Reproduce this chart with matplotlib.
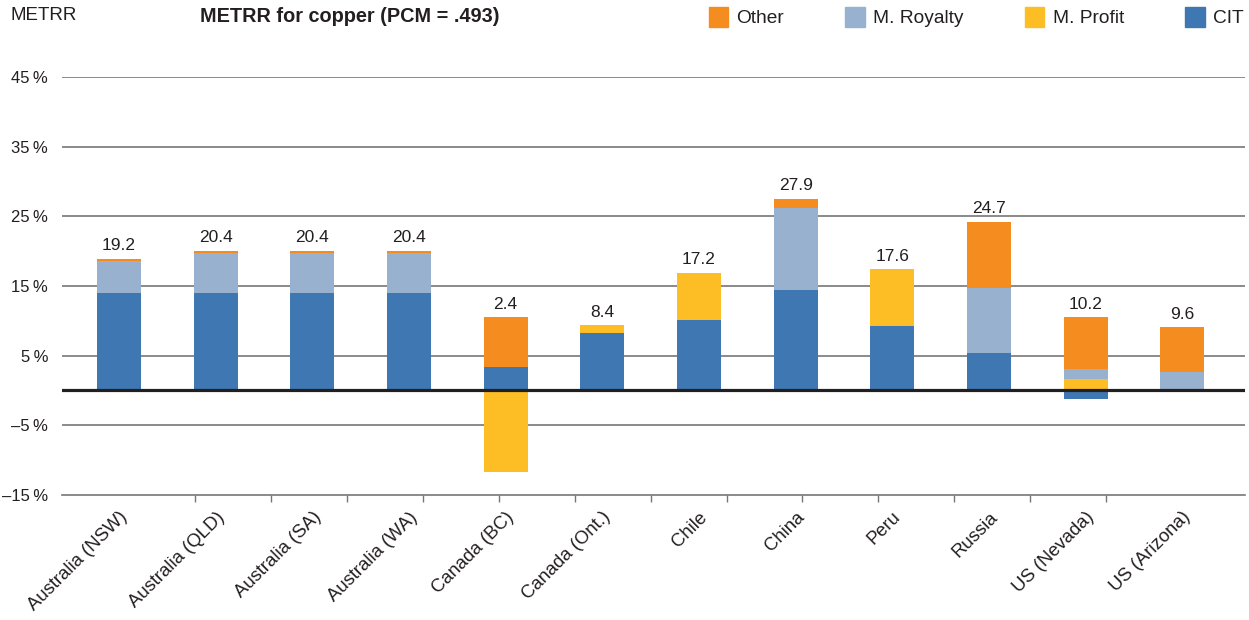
import numpy as np
import matplotlib.pyplot as plt
from matplotlib.patches import Patch

plt.rcParams['font.family'] = ['Liberation Sans', 'DejaVu Sans']

countries = ['Australia (NSW)', 'Australia (QLD)', 'Australia (SA)', 'Australia (WA)',
             'Canada (BC)', 'Canada (Ont.)', 'Chile', 'China', 'Peru', 'Russia',
             'US (Nevada)', 'US (Arizona)']

# METRR components, percentage points
cit = [14.0, 14.0, 14.0, 14.0, 3.3, 8.2, 10.1, 14.4, 9.25, 5.3, -1.25, 0.0]
m_profit = [0.0, 0.0, 0.0, 0.0, -11.8, 1.15, 6.8, 0.0, 8.15, 0.0, 1.6, 0.0]
m_royalty = [4.6, 5.8, 5.8, 5.8, 0.0, 0.0, 0.0, 11.8, 0.0, 9.4, 1.4, 2.65]
other = [0.3, 0.25, 0.25, 0.25, 7.2, 0.0, 0.0, 1.3, 0.0, 9.5, 7.5, 6.4]

# total METRR printed above each bar
totals = [19.2, 20.4, 20.4, 20.4, 2.4, 8.4, 17.2, 27.9, 17.6, 24.7, 10.2, 9.6]

yticks = [-15, -5, 5, 15, 25, 35, 45]

INK = '#231f20'
GRID = '#777777'
colors = {'CIT': '#3e77b1', 'M. Profit': '#fdbd25',
          'M. Royalty': '#97b1ce', 'Other': '#f48c20'}

W, H = 1249, 620
fig = plt.figure(figsize=(W / 100, H / 100), dpi=100)
ax = fig.add_axes([62 / W, (H - 494.7) / H, (1245 - 62) / W, (494.7 - 77.3) / H])

x = np.arange(len(countries))
pos_bottom = np.zeros(len(x))
neg_bottom = np.zeros(len(x))
series = [('CIT', cit), ('M. Profit', m_profit), ('M. Royalty', m_royalty), ('Other', other)]
for name, vals in series:
    v = np.array(vals, dtype=float)
    bottom = np.where(v >= 0, pos_bottom, neg_bottom)
    ax.bar(x, v, bottom=bottom, width=0.455, color=colors[name], zorder=3)
    pos_bottom += np.where(v > 0, v, 0)
    neg_bottom += np.where(v < 0, v, 0)

for xi, top, t in zip(x, pos_bottom, totals):
    ax.annotate(f'{t:.1f}', xy=(xi, top), xytext=(0, 4), textcoords='offset points',
                ha='center', va='bottom', fontsize=12.5, color=INK)

ax.set_xlim(-0.59, 11.65)
ax.set_ylim(-15, 45)

# horizontal rules
for yt in yticks[1:]:
    ax.axhline(yt, color=GRID, lw=1.2, zorder=1)
ax.axhline(0, color=INK, lw=2.3, zorder=4)

ax.set_yticks(yticks)
ax.set_yticklabels([f'{t}\u2009%'.replace('-', '\u2013') for t in yticks],
                   fontsize=12, color=INK)
ax.tick_params(axis='y', length=0, pad=10)

ax.set_xticks(x)
ax.set_xticklabels(countries, rotation=45, ha='right', va='top',
                   rotation_mode='anchor', fontsize=13.3, color=INK)
ax.tick_params(axis='x', which='major', length=0, pad=10)
ax.set_xticks(np.linspace(0, 11, 15), minor=True)
ax.tick_params(axis='x', which='minor', length=5, width=1, color=GRID, direction='out')

for side in ['top', 'right', 'left']:
    ax.spines[side].set_visible(False)
ax.spines['bottom'].set_color(GRID)
ax.spines['bottom'].set_linewidth(1.2)

fig.text(10 / W, 1 - 16 / H, 'METRR', fontsize=13.5, color=INK, va='center', ha='left')
fig.text(200 / W, 1 - 16 / H, 'METRR for copper (PCM = .493)', fontsize=14.3,
         fontweight='bold', color=INK, va='center', ha='left')

handles = [Patch(color=colors[n]) for n in ['Other', 'M. Royalty', 'M. Profit', 'CIT']]
fig.legend(handles, ['Other', 'M. Royalty', 'M. Profit', 'CIT'], ncol=4,
           loc='center right', bbox_to_anchor=(1244 / W, 1 - 17 / H),
           frameon=False, fontsize=13.8, handlelength=1.0, handleheight=1.2,
           handletextpad=0.45, columnspacing=3.2, borderpad=0, borderaxespad=0,
           labelcolor=INK)

fig.savefig('out.png', dpi=100)
